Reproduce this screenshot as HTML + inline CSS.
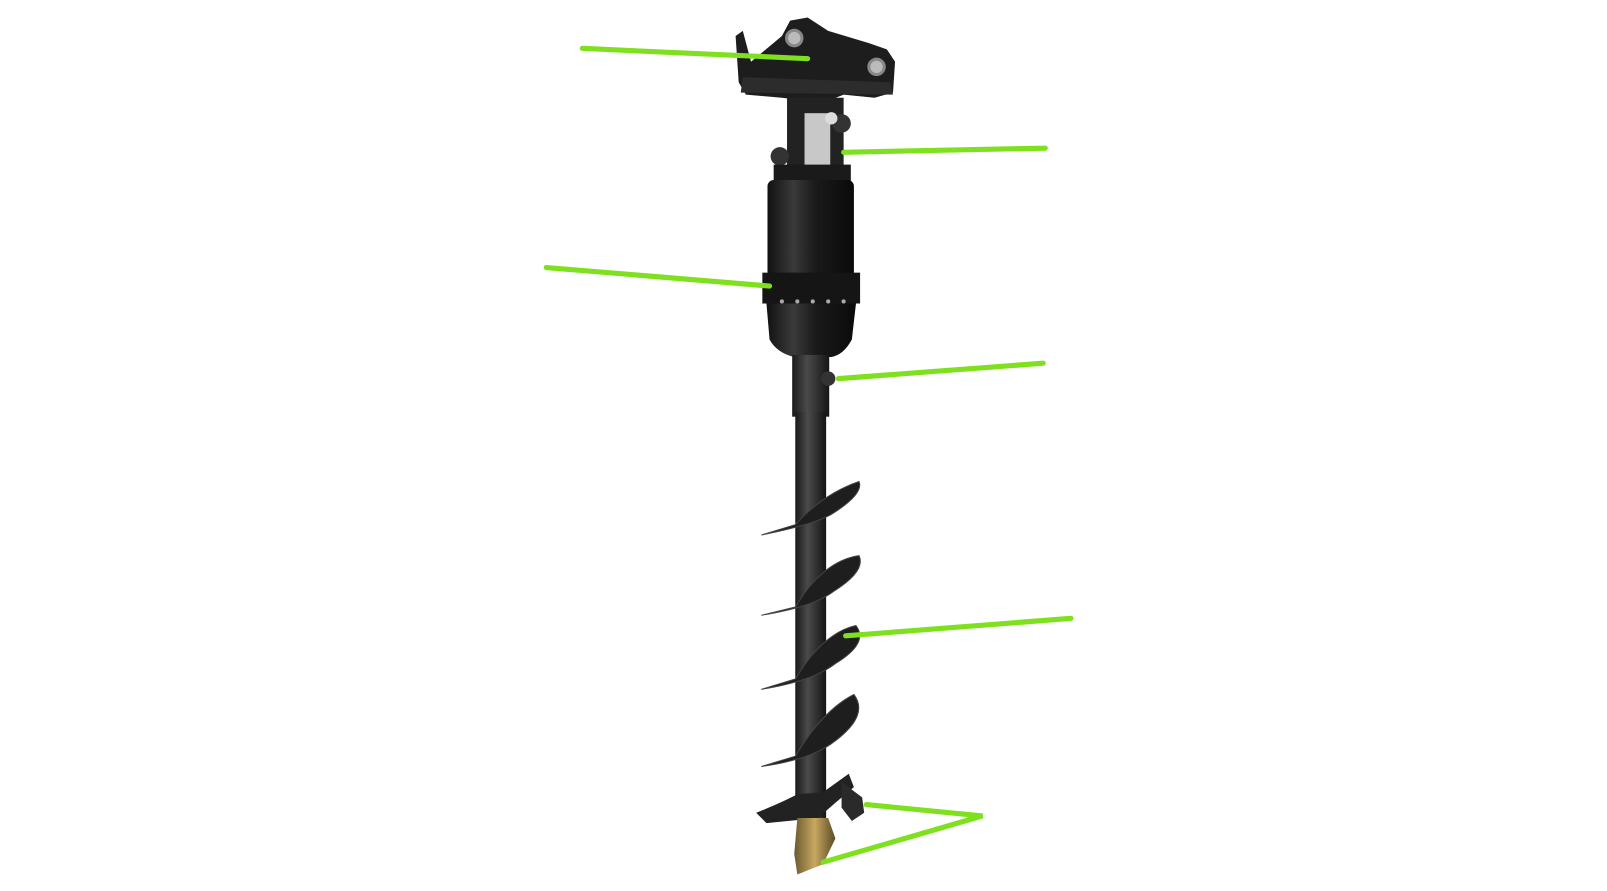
<!DOCTYPE html>
<html><head><meta charset="utf-8"><style>
html,body{margin:0;padding:0;background:#fff;width:1607px;height:891px;overflow:hidden}
</style></head><body>
<svg width="1607" height="891" viewBox="0 0 1562 866" preserveAspectRatio="none" xmlns="http://www.w3.org/2000/svg">
<defs>
<linearGradient id="cyl" x1="0" x2="1" y1="0" y2="0">
<stop offset="0" stop-color="#111"/><stop offset="0.3" stop-color="#3a3a3a"/><stop offset="0.55" stop-color="#1a1a1a"/><stop offset="1" stop-color="#0a0a0a"/>
</linearGradient>
<linearGradient id="shaft" x1="0" x2="1" y1="0" y2="0">
<stop offset="0" stop-color="#1a1a1a"/><stop offset="0.4" stop-color="#4a4a4a"/><stop offset="1" stop-color="#151515"/>
</linearGradient>
<linearGradient id="gold" x1="0" x2="1"><stop offset="0" stop-color="#6b5a30"/><stop offset="0.5" stop-color="#c8a860"/><stop offset="1" stop-color="#5a4a25"/></linearGradient>
</defs>
<rect width="1562" height="866" fill="#fff"/>
<polygon points="715,35 722,30 730,60 760,35 768,20 785,17 805,30 845,42 862,48 870,60 868,90 850,95 820,92 800,100 760,95 725,92 718,80" fill="#1d1d1d"/>
<polygon points="722,75 865,80 868,92 720,90" fill="#2c2c2c"/>
<circle cx="772" cy="37" r="9" fill="#888"/><circle cx="772" cy="37" r="6" fill="#bbb"/>
<circle cx="852" cy="65" r="9" fill="#888"/><circle cx="852" cy="65" r="6" fill="#bbb"/>
<rect x="765" y="95" width="55" height="80" fill="#222"/>
<rect x="782" y="110" width="25" height="60" fill="#c8c8c8"/>
<circle cx="758" cy="152" r="9" fill="#333"/><circle cx="818" cy="120" r="9" fill="#333"/>
<circle cx="808" cy="115" r="6" fill="#ddd"/>
<rect x="752" y="160" width="75" height="20" fill="#1a1a1a"/>
<rect x="746" y="175" width="84" height="95" rx="6" fill="url(#cyl)"/>
<rect x="741" y="265" width="95" height="30" fill="#151515"/>
<g fill="#aaa"><circle cx="760" cy="293" r="2"/><circle cx="775" cy="293" r="2"/><circle cx="790" cy="293" r="2"/><circle cx="805" cy="293" r="2"/><circle cx="820" cy="293" r="2"/></g>
<path d="M745,295 L832,295 L828,330 Q820,345 808,347 L772,347 Q755,343 748,330 Z" fill="url(#cyl)"/>
<rect x="770" y="345" width="36" height="60" fill="url(#shaft)"/>
<rect x="773" y="400" width="30" height="395" fill="url(#shaft)"/>
<circle cx="805" cy="368" r="7" fill="#333"/>
<g fill="#1e1e1e" stroke="#444" stroke-width="1">
<path d="M740,520 Q790,510 808,500 Q840,480 835,468 Q800,480 773,510 Z"/>
<path d="M740,598 Q790,590 810,575 Q842,555 835,540 Q800,545 773,590 Z"/>
<path d="M740,670 Q790,662 812,645 Q845,625 832,608 Q800,615 773,660 Z"/>
<path d="M740,745 Q790,738 812,720 Q845,695 830,675 Q800,690 773,735 Z"/>
</g>
<path d="M735,790 Q760,780 775,772 L800,770 L825,752 L830,765 Q812,780 795,795 L745,800 Z" fill="#222"/>
<path d="M818,760 L838,775 L840,790 L828,798 L818,785 Z" fill="#2a2a2a"/>
<path d="M775,795 L805,795 L812,815 L800,840 L775,850 L772,830 Z" fill="url(#gold)"/>
<g stroke="#7ee01e" stroke-width="5" stroke-linecap="round" fill="none">
<line x1="566" y1="47" x2="785" y2="57"/>
<line x1="820" y1="148" x2="1016" y2="144"/>
<line x1="531" y1="260" x2="748" y2="278"/>
<line x1="815" y1="368" x2="1014" y2="353"/>
<line x1="822" y1="618" x2="1041" y2="601"/>
<polyline points="842,782 955,793 800,838"/>
</g>
</svg>
</body></html>
